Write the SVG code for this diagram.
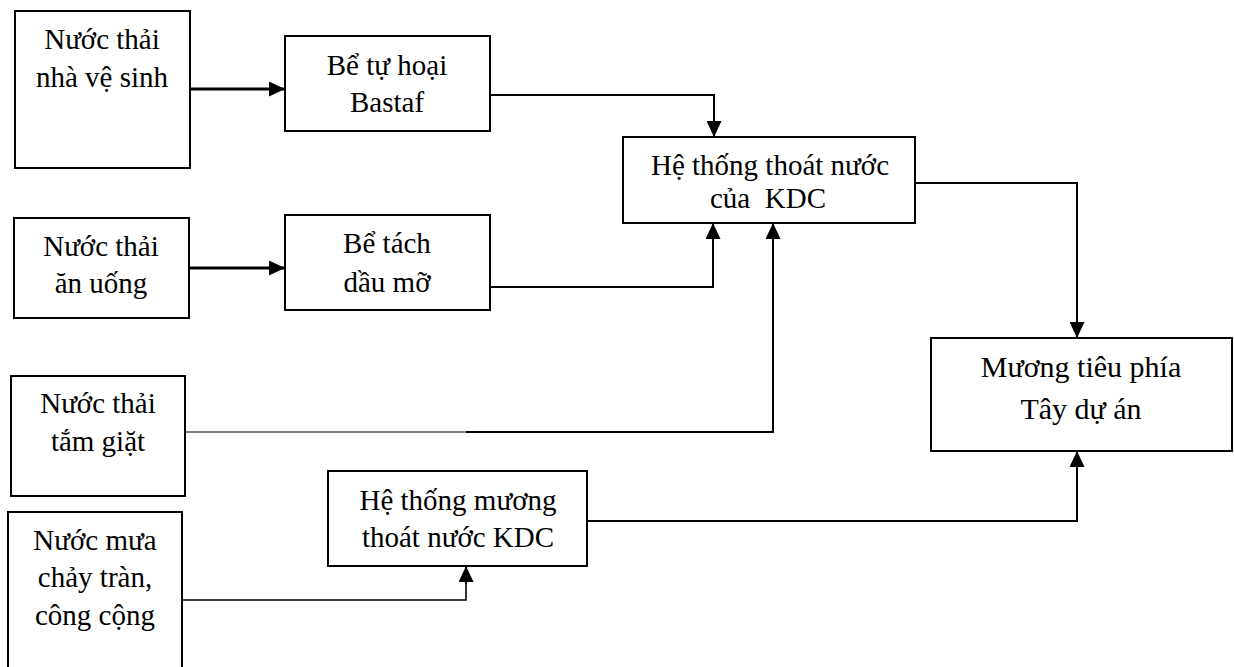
<svg xmlns="http://www.w3.org/2000/svg" width="1234" height="667" viewBox="0 0 1234 667">
<defs>
<style>
.box{fill:#fff;stroke:#000;stroke-width:2}
.t{font-family:"Liberation Serif","Times New Roman",serif;font-size:29px;fill:#000;text-anchor:middle}
.tl{font-family:"Liberation Serif","Times New Roman",serif;font-size:30px;fill:#000;text-anchor:middle}
.c{fill:none;stroke:#000;stroke-width:2}
.ck{fill:none;stroke:#000;stroke-width:3}
.cn{fill:none;stroke:#000;stroke-width:1.2}
.cm{fill:none;stroke:#000;stroke-width:1.6}
</style>
<marker id="arr" markerUnits="userSpaceOnUse" markerWidth="16" markerHeight="15" refX="16" refY="7.5" orient="auto">
<path d="M0,0 L16,7.5 L0,15 Z" fill="#000"/>
</marker>
</defs>
<rect width="1234" height="667" fill="#fff"/>
<g id="connectors">
<line class="ck" x1="190" y1="89" x2="285" y2="89" marker-end="url(#arr)"/>
<line class="ck" x1="189" y1="268" x2="285" y2="268" marker-end="url(#arr)"/>
<polyline class="c" points="490,95 714,95 714,137" marker-end="url(#arr)"/>
<polyline class="c" points="490,287 713,287 713,223" marker-end="url(#arr)"/>
<line class="cn" x1="185" y1="432" x2="467" y2="432"/>
<polyline class="c" points="466,432 773,432 773,223" marker-end="url(#arr)"/>
<polyline class="c" points="915,183 1077,183 1077,338" marker-end="url(#arr)"/>
<polyline class="cm" points="182,600 466,600 466,582"/>
<line class="c" x1="466" y1="584" x2="466" y2="566" marker-end="url(#arr)"/>
<polyline class="c" points="587,521 1077,521 1077,451" marker-end="url(#arr)"/>
</g>
<g id="node-nuoc-thai-nha-ve-sinh">
<rect class="box" x="15" y="11" width="175" height="157"/>
<text class="t" x="102" y="49">Nước thải</text>
<text class="t" x="102" y="87">nhà vệ sinh</text>
</g>
<g id="node-be-tu-hoai">
<rect class="box" x="285" y="36" width="205" height="95"/>
<text class="t" x="387" y="75">Bể tự hoại</text>
<text class="t" x="387" y="112">Bastaf</text>
</g>
<g id="node-nuoc-thai-an-uong">
<rect class="box" x="14" y="218" width="175" height="100"/>
<text class="t" x="101" y="256">Nước thải</text>
<text class="t" x="101" y="293">ăn uống</text>
</g>
<g id="node-be-tach-dau-mo">
<rect class="box" x="285" y="215" width="205" height="95"/>
<text class="t" x="387" y="253">Bể tách</text>
<text class="t" x="387" y="292">dầu mỡ</text>
</g>
<g id="node-he-thong-thoat-nuoc-kdc">
<rect class="box" x="623" y="137" width="292" height="86"/>
<text class="t" x="770" y="175">Hệ thống thoát nước</text>
<text class="t" x="768" y="208" xml:space="preserve">của  KDC</text>
</g>
<g id="node-muong-tieu">
<rect class="box" x="931" y="338" width="301" height="113"/>
<text class="tl" x="1081" y="377">Mương tiêu phía</text>
<text class="tl" x="1081" y="419">Tây dự án</text>
</g>
<g id="node-nuoc-thai-tam-giat">
<rect class="box" x="11" y="376" width="174" height="120"/>
<text class="t" x="98" y="413">Nước thải</text>
<text class="t" x="98" y="451">tắm giặt</text>
</g>
<g id="node-nuoc-mua">
<path class="box" d="M8,680 L8,512 L182,512 L182,680"/>
<text class="t" x="95" y="550">Nước mưa</text>
<text class="t" x="95" y="587">chảy tràn,</text>
<text class="t" x="95" y="625">công cộng</text>
</g>
<g id="node-he-thong-muong">
<rect class="box" x="328" y="471" width="259" height="95"/>
<text class="t" x="458" y="510">Hệ thống mương</text>
<text class="t" x="458" y="547">thoát nước KDC</text>
</g>
</svg>
